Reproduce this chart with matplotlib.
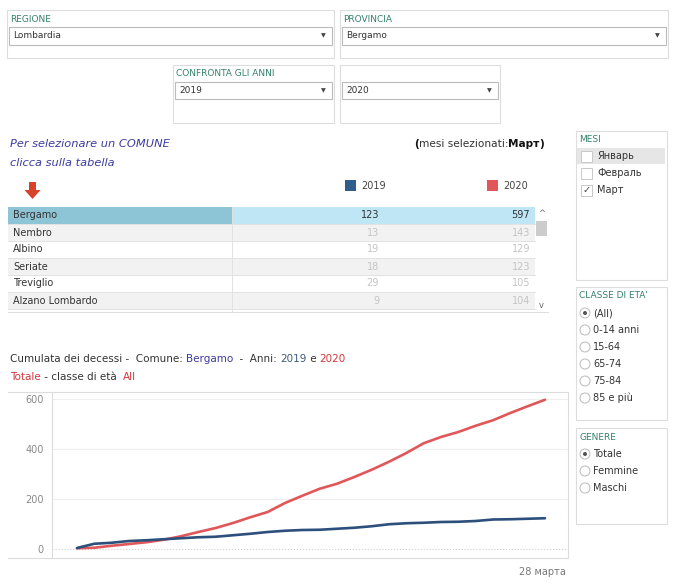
import matplotlib.pyplot as plt
from matplotlib.patches import Rectangle, Circle, Polygon

plt.rcParams['font.family'] = ['DejaVu Sans']

# data
days = list(range(1, 29))
cum_2019 = [4, 21, 25, 32, 35, 39, 43, 47, 49, 55, 61, 68, 73, 76,
            77, 81, 85, 91, 99, 103, 105, 108, 109, 112, 118, 119, 121, 123]
cum_2020 = [3, 5, 13, 20, 27, 37, 51, 68, 84, 104, 127, 148, 184, 213,
            241, 261, 288, 317, 349, 384, 423, 448, 468, 493, 515, 544, 571, 597]
comuni = ['Bergamo', 'Nembro', 'Albino', 'Seriate', 'Treviglio', 'Alzano Lombardo']
dec_2019 = [123, 13, 19, 18, 29, 9]
dec_2020 = [597, 143, 129, 123, 105, 104]
mesi = ['Январь', 'Февраль', 'Март']
classi = ['(All)', '0-14 anni', '15-64', '65-74', '75-84', '85 e più']
generi = ['Totale', 'Femmine', 'Maschi']
y_ticks = [0, 200, 400, 600]

W, H = 675, 584
GREEN = '#35806b'
BLUE = '#2c4f7c'
RED = '#e15759'
GRID = '#dcdcdc'

fig = plt.figure(figsize=(W / 100, H / 100), dpi=100)
bg = fig.add_axes([0, 0, 1, 1])
bg.set_xlim(0, W)
bg.set_ylim(H, 0)
bg.axis('off')


def box(x0, y0, x1, y1, ec='#dddddd', fc='white', lw=0.8, z=1):
    bg.add_patch(Rectangle((x0, y0), x1 - x0, y1 - y0, fc=fc, ec=ec, lw=lw, zorder=z))


def dropdown(x0, y0, x1, y1, text):
    box(x0, y0, x1, y1, ec='#bbbbbb', z=2)
    bg.text(x0 + 4, (y0 + y1) / 2, text, fontsize=6.5, color='#333333', va='center', zorder=3)
    bg.text(x1 - 9, (y0 + y1) / 2, '▼', fontsize=4.5, color='#444444', va='center', ha='center', zorder=3)


def rainbow(x, y, parts, size=7.5):
    r = fig.canvas.get_renderer()
    for txt, col, kw in parts:
        t = bg.text(x, y, txt, fontsize=size, color=col, va='center', **kw)
        ext = t.get_window_extent(renderer=r)
        x += ext.width


# filters
box(7, 10, 334, 58)
bg.text(10, 19, 'REGIONE', fontsize=6.5, color=GREEN, va='center')
dropdown(9, 27, 332, 45, 'Lombardia')
box(340, 10, 668, 58)
bg.text(343, 19, 'PROVINCIA', fontsize=6.5, color=GREEN, va='center')
dropdown(342, 27, 666, 45, 'Bergamo')
box(173, 65, 334, 123)
bg.text(176, 74, 'CONFRONTA GLI ANNI', fontsize=6.5, color=GREEN, va='center')
dropdown(175, 82, 332, 99, '2019')
box(340, 65, 500, 123)
dropdown(342, 82, 498, 99, '2020')

# instructions
bg.text(10, 144, 'Per selezionare un COMUNE', fontsize=8.2, color='#3b3b9e', style='italic', va='center')
bg.text(10, 163, 'clicca sulla tabella', fontsize=8.2, color='#3b3b9e', style='italic', va='center')
rainbow(414, 144, [('(', '#111111', {'fontweight': 'bold'}),
                   ('mesi selezionati:', '#333333', {}),
                   ('Март', '#111111', {'fontweight': 'bold'}),
                   (')', '#111111', {'fontweight': 'bold'})], size=7.6)
bg.add_patch(Polygon([(29, 182), (36, 182), (36, 190), (40.5, 190), (32.5, 199), (24.5, 190), (29, 190)],
                     closed=True, fc='#d9412b', ec='none'))

# legend
bg.add_patch(Rectangle((345, 180), 11, 11, fc='#2f5d8c', ec='none'))
bg.text(361, 186, '2019', fontsize=7, color='#444444', va='center')
bg.add_patch(Rectangle((487, 180), 11, 11, fc=RED, ec='none'))
bg.text(503, 186, '2020', fontsize=7, color='#444444', va='center')

# table
row_h = 17
top = 207
for i, (name, a, b) in enumerate(zip(comuni, dec_2019, dec_2020)):
    y0 = top + i * row_h
    if i == 0:
        c_name, c_val, tc_val = '#8ec5d6', '#bfe6f5', '#333333'
    else:
        c_name = c_val = '#f2f2f2' if i % 2 == 1 else 'white'
        tc_val = '#c4c4c4'
    bg.add_patch(Rectangle((8, y0), 224, row_h, fc=c_name, ec='none'))
    bg.add_patch(Rectangle((232, y0), 303, row_h, fc=c_val, ec='none'))
    bg.plot([8, 535], [y0 + row_h, y0 + row_h], color='#e2e2e2', lw=0.7)
    bg.text(13, y0 + row_h / 2, name, fontsize=7, color='#333333', va='center')
    bg.text(379, y0 + row_h / 2, str(a), fontsize=7, color=tc_val, va='center', ha='right')
    bg.text(530, y0 + row_h / 2, str(b), fontsize=7, color=tc_val, va='center', ha='right')
bg.plot([232, 232], [top, 312], color='#e2e2e2', lw=0.7)
bg.plot([8, 548], [312, 312], color='#dddddd', lw=0.7)
bg.add_patch(Rectangle((536, 221), 11, 15, fc='#cccccc', ec='none'))
bg.text(541.5, 213, '^', fontsize=6, color='#666666', ha='center', va='center')
bg.text(541.5, 305, 'v', fontsize=6, color='#666666', ha='center', va='center')

# right panels
box(576, 131, 667, 280)
bg.text(579, 139, 'MESI', fontsize=6.5, color=GREEN, va='center')
for i, m in enumerate(mesi):
    yc = 156 + i * 17
    if i == 0:
        bg.add_patch(Rectangle((577, yc - 8), 88, 16, fc='#e6e6e6', ec='none'))
    bg.add_patch(Rectangle((581, yc - 5.5), 11, 11, fc='white', ec='#c8c8c8', lw=0.7))
    if m == 'Март':
        bg.text(586.5, yc + 0.5, '✓', fontsize=7, color='#444444', ha='center', va='center')
    bg.text(597, yc, m, fontsize=7, color='#333333', va='center')

box(576, 287, 667, 420)
bg.text(579, 296, "CLASSE DI ETA'", fontsize=6.5, color=GREEN, va='center')
for i, c in enumerate(classi):
    yc = 313 + i * 17
    bg.add_patch(Circle((585, yc), 5, fc='white', ec='#bbbbbb', lw=0.7))
    if i == 0:
        bg.add_patch(Circle((585, yc), 2, fc='#555555', ec='none'))
    bg.text(593, yc, c, fontsize=7, color='#333333', va='center')

box(576, 428, 667, 524)
bg.text(579, 437, 'GENERE', fontsize=6.5, color=GREEN, va='center')
for i, g in enumerate(generi):
    yc = 454 + i * 17
    bg.add_patch(Circle((585, yc), 5, fc='white', ec='#bbbbbb', lw=0.7))
    if i == 0:
        bg.add_patch(Circle((585, yc), 2, fc='#555555', ec='none'))
    bg.text(593, yc, g, fontsize=7, color='#333333', va='center')

# chart title
rainbow(10, 359, [('Cumulata dei decessi -  Comune: ', '#333333', {}),
                  ('Bergamo', '#3b3b9e', {}),
                  ('  -  Anni: ', '#333333', {}),
                  ('2019', '#3c5a7a', {}),
                  (' e ', '#333333', {}),
                  ('2020', '#d0373b', {})])
rainbow(10, 377, [('Totale', '#d0373b', {}),
                  (' - classe di età  ', '#333333', {}),
                  ('All', '#d0373b', {})])

# chart frame
bg.plot([8, 568], [392, 392], color=GRID, lw=0.8)
bg.plot([8, 568], [558, 558], color=GRID, lw=0.8)
bg.plot([568, 568], [392, 558], color=GRID, lw=0.8)
bg.text(566, 572, '28 марта', fontsize=7, color='#777777', ha='right', va='center')

ax = fig.add_axes([52 / W, 1 - 558 / H, (568 - 52) / W, (558 - 392) / H])
ax.patch.set_alpha(0)
ax.set_xlim(1 - 25 / 17.333, 28 + 23 / 17.333)
ax.set_ylim(-36, 628)
for s in ['top', 'right', 'bottom']:
    ax.spines[s].set_visible(False)
ax.spines['left'].set_color(GRID)
ax.set_xticks([])
ax.set_yticks(y_ticks)
ax.tick_params(axis='y', length=0, labelsize=7, labelcolor='#888888', pad=6)
for v in y_ticks:
    ax.axhline(v, color='#eeeeee' if v else '#d0d0d0', lw=0.8, ls='-' if v else ':', zorder=0)
ax.plot(days, cum_2020, color=RED, lw=1.9, solid_capstyle='round')
ax.plot(days, cum_2019, color=BLUE, lw=1.9, solid_capstyle='round')

fig.savefig('out.png', dpi=100)
